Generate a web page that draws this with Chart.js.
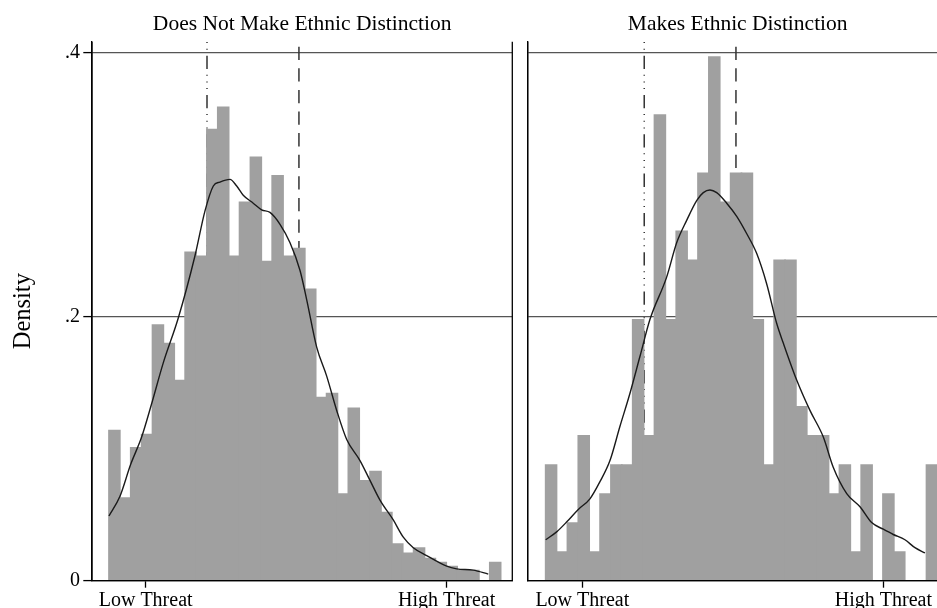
<!DOCTYPE html>
<html>
<head>
<meta charset="utf-8">
<script src="https://cdn.jsdelivr.net/npm/chart.js@4.4.1/dist/chart.umd.min.js"></script>
<style>
html, body { margin: 0; padding: 0; background: #fff; overflow: hidden; width: 937px; height: 608px; }
#leftPanel { position: absolute; left: 0; top: 0; }
#rightPanel { position: absolute; left: 500px; top: 0; }
</style>
</head>
<body>
<canvas id="leftPanel" width="520" height="608"></canvas>
<canvas id="rightPanel" width="460" height="608"></canvas>
<script>
// histogram bins (bin index units, bin width 1)
const binCenters = [0.5, 1.5, 2.5, 3.5, 4.5, 5.5, 6.5, 7.5, 8.5, 9.5, 10.5, 11.5, 12.5, 13.5, 14.5, 15.5, 16.5, 17.5,
    18.5, 19.5, 20.5, 21.5, 22.5, 23.5, 24.5, 25.5, 26.5, 27.5, 28.5, 29.5, 30.5, 31.5, 32.5, 33.5, 34.5, 35.5];

const noDistinctionDensity = [0.114, 0.063, 0.101, 0.111, 0.194, 0.180, 0.152, 0.249, 0.246, 0.342, 0.359, 0.246,
    0.287, 0.321, 0.242, 0.307, 0.246, 0.252, 0.221, 0.139, 0.142, 0.066, 0.131, 0.076, 0.083, 0.052, 0.028, 0.021,
    0.025, 0.017, 0.014, 0.011, 0.008, 0.008, 0, 0.014];

const distinctionDensity = [0.088, 0.022, 0.044, 0.110, 0.022, 0.066, 0.088, 0.088, 0.198, 0.110, 0.353, 0.198,
    0.265, 0.243, 0.309, 0.397, 0.287, 0.309, 0.309, 0.198, 0.088, 0.243, 0.243, 0.132, 0.110, 0.110, 0.066, 0.088,
    0.022, 0.088, 0, 0.066, 0.022, 0, 0, 0.088];

// kernel density curves
const noDistinctionKdeX = [0.00, 1.01, 1.99, 3.01, 3.92, 4.99, 6.37, 7.90, 8.82, 9.59, 10.20, 11.12, 11.74, 12.34,
    13.26, 14.03, 14.80, 15.72, 16.64, 17.56, 18.17, 19.09, 20.01, 20.93, 21.85, 23.07, 23.99, 24.91, 26.13, 27.05,
    27.97, 29.20, 31.04, 31.96, 33.48, 34.86];
const noDistinctionKdeY = [0.049, 0.064, 0.088, 0.109, 0.134, 0.165, 0.199, 0.246, 0.280, 0.299, 0.302, 0.304, 0.299,
    0.292, 0.286, 0.281, 0.279, 0.270, 0.256, 0.235, 0.213, 0.177, 0.155, 0.129, 0.107, 0.091, 0.076, 0.061, 0.046,
    0.033, 0.025, 0.019, 0.011, 0.009, 0.008, 0.005];

const distinctionKdeX = [0.00, 1.01, 1.99, 3.00, 4.07, 4.99, 5.91, 6.83, 7.75, 8.67, 9.59, 11.12, 12.04, 12.96, 13.88,
    14.49, 15.10, 15.72, 16.64, 17.56, 18.47, 19.39, 20.31, 21.23, 21.84, 23.07, 24.29, 25.51, 26.43, 27.67, 28.89,
    29.96, 31.03, 31.95, 33.02, 33.94, 34.86];
const distinctionKdeY = [0.031, 0.037, 0.045, 0.054, 0.062, 0.075, 0.091, 0.117, 0.142, 0.170, 0.198, 0.230, 0.256,
    0.273, 0.288, 0.294, 0.296, 0.294, 0.286, 0.276, 0.263, 0.248, 0.225, 0.195, 0.180, 0.152, 0.129, 0.109, 0.086,
    0.066, 0.056, 0.044, 0.039, 0.035, 0.031, 0.025, 0.021];

// reference lines (dash-dot, dashed)
const noDistinctionRefLines = [9.01, 17.46];
const distinctionRefLines = [9.06, 17.49];

const xTickValues = [3.37, 31.04];
const xTickLabels = ['Low Threat', 'High Threat'];
const yTickValues = [0, 0.2, 0.4];
const yTickLabels = ['0', '.2', '.4'];

const SERIF = '"Liberation Serif", "Times New Roman", serif';
const refLineStyles = [
    { dash: [13.3, 5.7, 1, 5.7, 1, 5.7, 1, 5.9], offset: 25.3 },
    { dash: [13.3, 8.3], offset: 16.6 }
];

const panelDecor = {
    id: 'panelDecor',
    beforeDatasetsDraw(chart, args, opts) {
        const { ctx, chartArea: a } = chart;
        const x = chart.scales.x;
        ctx.save();
        ctx.lineWidth = 1.5;
        ctx.strokeStyle = '#333';
        opts.refLines.forEach((v, i) => {
            const px = x.getPixelForValue(v);
            ctx.setLineDash(refLineStyles[i].dash);
            ctx.lineDashOffset = refLineStyles[i].offset;
            ctx.beginPath();
            ctx.moveTo(px, a.top);
            ctx.lineTo(px, a.bottom);
            ctx.stroke();
        });
        ctx.restore();
    },
    afterDraw(chart, args, opts) {
        const { ctx, chartArea: a } = chart;
        ctx.save();
        // frame on top of the bars: left, bottom, right
        ctx.strokeStyle = '#000';
        ctx.lineWidth = 1.3;
        ctx.beginPath();
        ctx.moveTo(a.left, a.top);
        ctx.lineTo(a.left, a.bottom);
        ctx.lineTo(a.right, a.bottom);
        ctx.lineTo(a.right, a.top);
        ctx.stroke();

        ctx.fillStyle = '#000';
        ctx.font = '21.5px ' + SERIF;
        ctx.textAlign = 'center';
        ctx.textBaseline = 'alphabetic';
        ctx.fillText(opts.title, (a.left + a.right) / 2, 30);

        if (opts.yTitle) {
            ctx.font = '24.5px ' + SERIF;
            ctx.translate(29.5, (a.top + a.bottom) / 2);
            ctx.rotate(-Math.PI / 2);
            ctx.fillText(opts.yTitle, 0, 0);
        }
        ctx.restore();
    }
};

function zip(xs, ys) {
    return xs.map((v, i) => ({ x: v, y: ys[i] }));
}

function makePanel(canvasId, cfg) {
    return new Chart(document.getElementById(canvasId), {
        type: 'bar',
        data: {
            datasets: [
                {
                    type: 'line',
                    data: zip(cfg.kdeX, cfg.kdeY),
                    borderColor: '#1a1a1a',
                    borderWidth: 1.4,
                    pointRadius: 0,
                    cubicInterpolationMode: 'monotone',
                    order: 0
                }, {
                    type: 'bar',
                    data: zip(binCenters, cfg.density),
                    backgroundColor: '#a0a0a0',
                    borderWidth: 0,
                    inflateAmount: 0.4,
                    barPercentage: 1.08,
                    categoryPercentage: 1,
                    order: 1
                }
            ]
        },
        options: {
            responsive: false,
            animation: false,
            devicePixelRatio: 1,
            layout: { padding: { left: 0, right: cfg.padRight, top: 41.7, bottom: 0 } },
            plugins: {
                legend: { display: false },
                tooltip: { enabled: false },
                panelDecor: { title: cfg.title, yTitle: cfg.yTitle, refLines: cfg.refLines }
            },
            scales: {
                x: {
                    type: 'linear',
                    min: cfg.xMin,
                    max: cfg.xMax,
                    offset: false,
                    afterBuildTicks: s => { s.ticks = xTickValues.map(v => ({ value: v })); },
                    afterFit: s => { s.height = 27.3; },
                    grid: { offset: false, drawOnChartArea: false, tickLength: 7, tickColor: '#000', tickWidth: 1.3 },
                    border: { display: true, color: '#000', width: 1.3 },
                    ticks: {
                        callback: (v, i) => xTickLabels[i],
                        font: { family: SERIF, size: 20 },
                        color: '#000',
                        padding: 1,
                        maxRotation: 0,
                        autoSkip: false
                    }
                },
                y: {
                    min: 0,
                    max: 0.40833,
                    afterBuildTicks: s => { s.ticks = yTickValues.map(v => ({ value: v })); },
                    afterFit: s => { s.width = cfg.yWidth; },
                    grid: {
                        color: c => (c.tick && c.tick.value === 0) ? 'rgba(0,0,0,0)' : '#555',
                        lineWidth: 1.2,
                        drawTicks: cfg.showYTicks,
                        tickLength: cfg.showYTicks ? 8.7 : 0,
                        tickColor: '#000',
                        tickWidth: 1.3
                    },
                    border: { display: true, color: '#000', width: 1.3 },
                    ticks: {
                        display: cfg.showYTicks,
                        callback: (v, i) => yTickLabels[i],
                        font: { family: SERIF, size: 20 },
                        color: '#000',
                        padding: 3.3
                    }
                }
            }
        },
        plugins: [panelDecor]
    });
}

makePanel('leftPanel', {
    title: 'Does Not Make Ethnic Distinction',
    yTitle: 'Density',
    density: noDistinctionDensity,
    kdeX: noDistinctionKdeX,
    kdeY: noDistinctionKdeY,
    refLines: noDistinctionRefLines,
    xMin: -1.56,
    xMax: 37.07,
    padRight: 7.7,
    yWidth: 92,
    showYTicks: true
});

makePanel('rightPanel', {
    title: 'Makes Ethnic Distinction',
    yTitle: null,
    density: distinctionDensity,
    kdeX: distinctionKdeX,
    kdeY: distinctionKdeY,
    refLines: distinctionRefLines,
    xMin: -1.65,
    xMax: 36.95,
    padRight: 12.3,
    yWidth: 27.7,
    showYTicks: false
});
</script>
</body>
</html>
